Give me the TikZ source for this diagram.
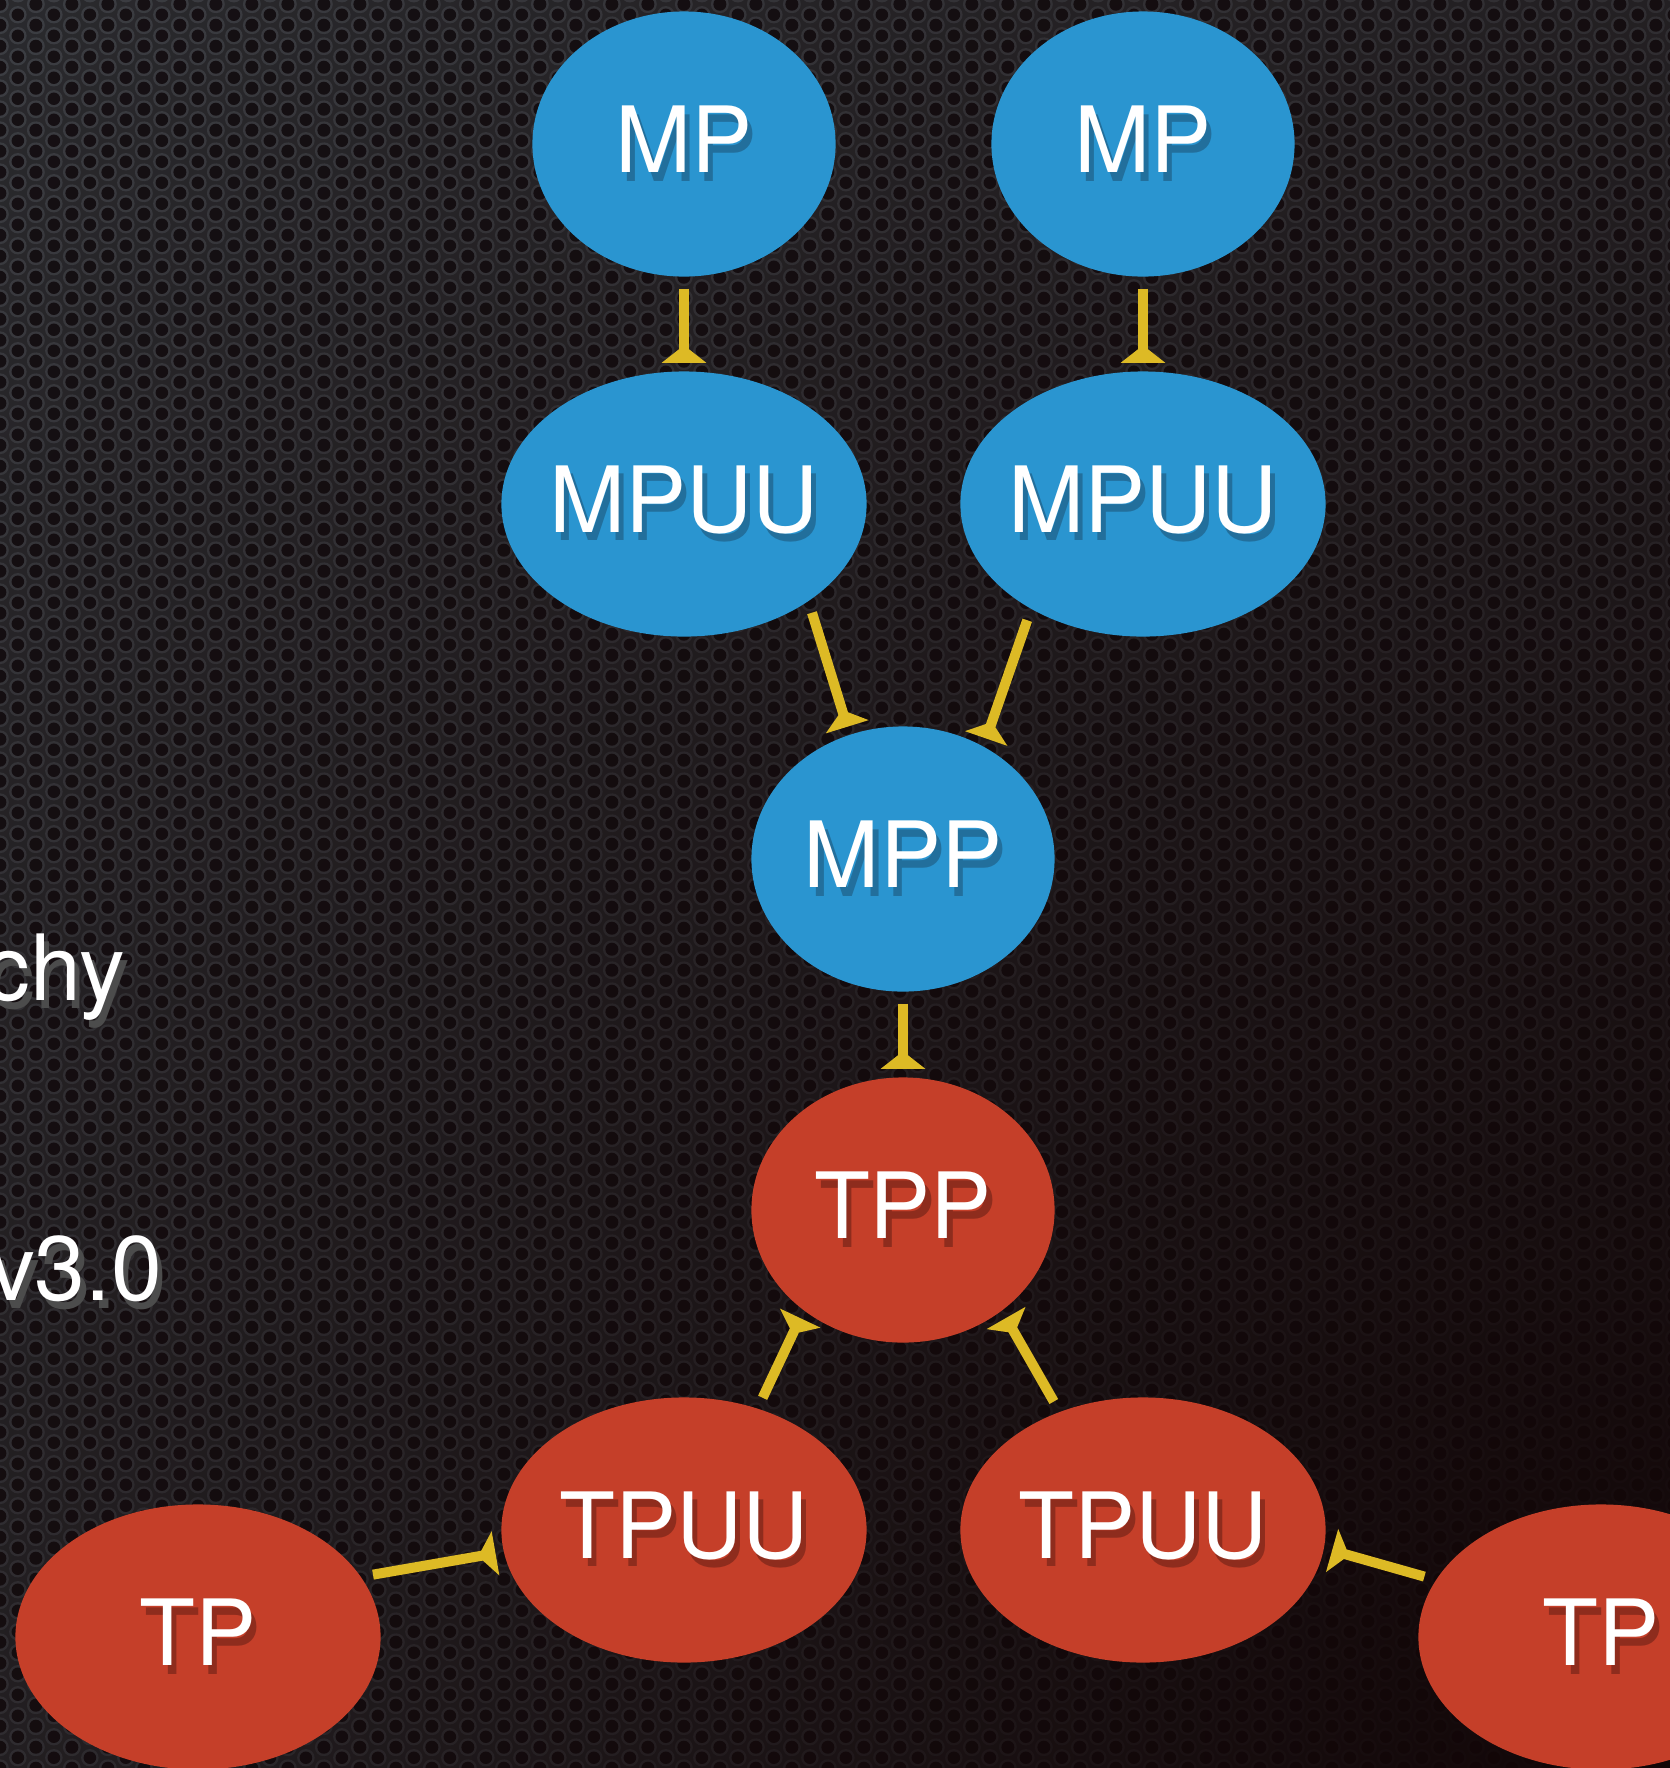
\documentclass[tikz,border=0pt]{standalone}
\usepackage{fontspec}
\setmainfont{TeX Gyre Heros}
\usetikzlibrary{shapes.geometric,arrows.meta,patterns,fadings}

\definecolor{mpblue}{HTML}{2A95D0}
\definecolor{mpshade}{HTML}{226F9C}
\definecolor{tpred}{HTML}{C53F29}
\definecolor{tpshade}{HTML}{8E2C1D}
\definecolor{linkgold}{HTML}{DDBA25}
\definecolor{plate}{HTML}{303337}
\definecolor{ringgray}{HTML}{474C52}
\definecolor{holeblack}{HTML}{161317}
\definecolor{darkcorner}{HTML}{120607}

% perforated metal backdrop
\pgfdeclarepatterninherentlycolored{perforated}
{\pgfpointorigin}{\pgfqpoint{10.2pt}{5.9pt}}
{\pgfqpoint{10.2pt}{5.9pt}}
{
  \pgfsetfillcolor{ringgray}
  \pgfpathcircle{\pgfpointorigin}{2.5pt}
  \pgfpathcircle{\pgfqpoint{10.2pt}{0pt}}{2.5pt}
  \pgfpathcircle{\pgfqpoint{0pt}{5.9pt}}{2.5pt}
  \pgfpathcircle{\pgfqpoint{10.2pt}{5.9pt}}{2.5pt}
  \pgfpathcircle{\pgfqpoint{5.1pt}{2.95pt}}{2.5pt}
  \pgfusepath{fill}
  \pgfsetfillcolor{holeblack}
  \pgfpathcircle{\pgfpointorigin}{1.8pt}
  \pgfpathcircle{\pgfqpoint{10.2pt}{0pt}}{1.8pt}
  \pgfpathcircle{\pgfqpoint{0pt}{5.9pt}}{1.8pt}
  \pgfpathcircle{\pgfqpoint{10.2pt}{5.9pt}}{1.8pt}
  \pgfpathcircle{\pgfqpoint{5.1pt}{2.95pt}}{1.8pt}
  \pgfusepath{fill}
}

\tikzfading[name=cornerfade, inner color=transparent!0, outer color=transparent!100]

\newcommand{\shadowed}[2]{\makebox[0pt][l]{\kern1.5pt\raisebox{-2.5pt}{\textcolor{#2}{#1}}}#1}
\newcommand{\blobtext}[2]{\makebox[2cm]{\shadowed{#1}{#2}}}

\begin{document}
\begin{tikzpicture}[x=0.01cm,y=-0.01cm]
\useasboundingbox (0,0) rectangle (1670,1768);
\clip (0,0) rectangle (1670,1768);
\fill[plate] (0,0) rectangle (1670,1768);
\fill[pattern=perforated] (0,0) rectangle (1670,1768);
\fill[darkcorner, path fading=cornerfade] (1670,1768) circle (3000);

\begin{scope}[color=linkgold,line width=2.85pt,
              -{Triangle[reversed,length=5pt,width=12.5pt]},
              shorten <=2pt,shorten >=1pt,
              blob/.style={ellipse,inner sep=0pt,text=white,
                           font=\fontsize{26}{30}\selectfont,
                           minimum width=3.03cm,minimum height=2.65cm},
              wideblob/.style={blob,minimum width=3.65cm},
              bluefill/.style={fill=mpblue},
              redfill/.style={fill=tpred},
              caption/.style={inner sep=0pt,text=white,anchor=base east,
                              font=\fontsize{26}{30}\selectfont}]
    \node [blob,bluefill] (1) at (684,144) {\blobtext{MP}{mpshade}};
    \node [blob,bluefill] (2) at (1143,144) {\blobtext{MP}{mpshade}};
    \node [wideblob,bluefill] (3) at (684,504) {\blobtext{MPUU}{mpshade}};
    \node [wideblob,bluefill] (4) at (1143,504) {\blobtext{MPUU}{mpshade}};
    \node [blob,bluefill] (5) at (903,859) {\blobtext{MPP}{mpshade}};
    \node [blob,redfill] (6) at (903,1210) {\blobtext{TPP}{tpshade}};
    \node [wideblob,redfill] (7) at (684,1530) {\blobtext{TPUU}{tpshade}};
    \node [wideblob,redfill] (8) at (1143,1530) {\blobtext{TPUU}{tpshade}};
    \node [wideblob,redfill] (9) at (198,1637) {\blobtext{TP}{tpshade}};
    \node [wideblob,redfill] (10) at (1601,1637) {\blobtext{TP}{tpshade}};
    \node [caption] (11) at (130,1000) {\shadowed{chy}{black!70}};
    \node [caption] (12) at (167,1300) {\shadowed{v3.0}{black!70}};
    \path (1) edge (3);
    \path (2) edge (4);
    \path (3.-39) edge (5.113);
    \path (4.-136) edge (5.55);
    \path (5) edge (6);
    \path (7.59) edge (6.-134);
    \path (8.125) edge (6.-46);
    \path (9.20) edge (7.-173);
    \path (10.161) edge (8.-6);
\end{scope}
\end{tikzpicture}
\end{document}
